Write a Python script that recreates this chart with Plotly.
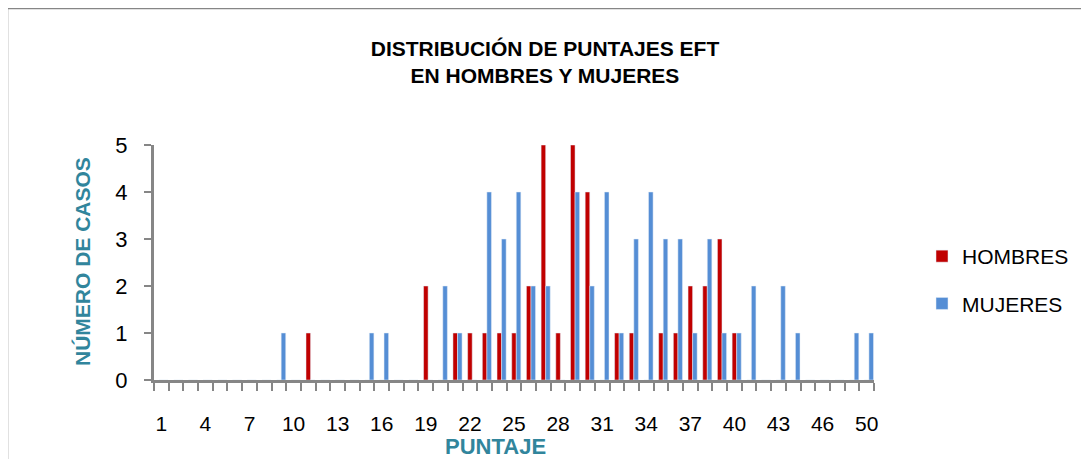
import plotly.graph_objects as go

# Categories (PUNTAJE); the last shown category in the source chart is 50
puntaje = [str(i) for i in range(1, 49)] + ["50"]

hombres = [0, 0, 0, 0, 0, 0, 0, 0, 0, 0,
           1, 0, 0, 0, 0, 0, 0, 0, 2, 0,
           1, 1, 1, 1, 1, 2, 5, 1, 5, 4,
           0, 1, 1, 0, 1, 1, 2, 2, 3, 1,
           0, 0, 0, 0, 0, 0, 0, 0, 0]

mujeres = [0, 0, 0, 0, 0, 0, 0, 0, 1, 0,
           0, 0, 0, 0, 1, 1, 0, 0, 0, 2,
           1, 0, 4, 3, 4, 2, 2, 0, 4, 2,
           4, 1, 3, 4, 3, 3, 1, 3, 1, 1,
           2, 0, 2, 1, 0, 0, 0, 1, 1]

tick_labels = [c if i % 3 == 0 else "" for i, c in enumerate(puntaje)]

RED = "#C00000"
BLUE = "#558ED5"
TEAL = "#31859C"
GRAY = "#868686"
FONT = "Liberation Sans, Arial, sans-serif"

fig = go.Figure()
fig.add_trace(go.Bar(x=puntaje, y=hombres, name="HOMBRES", marker_color=RED,
                     width=0.31, offset=-0.155, legendgroup="h"))
fig.add_trace(go.Bar(x=puntaje, y=mujeres, name="MUJERES", marker_color=BLUE,
                     width=0.31, offset=0.155, legendgroup="m"))

# page body has an 8px margin: work in window coordinates and shift
O = 8
W, H = 1089 - O, 459 - O
L, T = 154 - O, 145 - O
pw, ph = 720, 235
R = W - L - pw
B = H - T - ph

def px_x(x):
    return (x - O - L) / pw

def px_y(y):
    return (H - B - (y - O)) / ph

fig.update_layout(
    width=W, height=H,
    margin=dict(l=L, r=R, t=T, b=B, autoexpand=False),
    paper_bgcolor="white", plot_bgcolor="white",
    barmode="overlay",
    font=dict(family=FONT, color="black"),
    title=dict(text="DISTRIBUCIÓN DE PUNTAJES EFT<br>EN HOMBRES Y MUJERES",
               x=px_x(545), xanchor="center", xref="paper",
               y=1 - (56 - O) / H, yanchor="middle",
               font=dict(size=21, family=FONT, color="black", weight="bold")),
    legend=dict(x=px_x(922), xanchor="left", y=px_y(280), yanchor="middle",
                font=dict(size=21, family=FONT, color="black"),
                traceorder="grouped", tracegroupgap=17,
                bgcolor="rgba(0,0,0,0)"),
    xaxis=dict(type="category", tickmode="array", tickvals=puntaje, ticktext=tick_labels,
               tickson="boundaries", ticks="outside", ticklen=8, tickwidth=2, tickcolor=GRAY,
               showline=True, linecolor=GRAY, linewidth=3, showgrid=False, tickangle=0,
               tickfont=dict(size=21, color="black"), ticklabelstandoff=23,
               range=[-0.5, len(puntaje) - 0.5]),
    yaxis=dict(range=[0, 5], dtick=1, ticks="outside", ticklen=7, tickwidth=2, tickcolor=GRAY,
               showline=True, linecolor=GRAY, linewidth=3, showgrid=False, zeroline=False,
               tickfont=dict(size=22, color="black"), ticklabelstandoff=12),
    showlegend=True,
)

fig.add_annotation(text="<b>PUNTAJE</b>", x=px_x(495), y=px_y(446), xref="paper", yref="paper",
                   xanchor="center", yanchor="middle", showarrow=False,
                   font=dict(size=22, color=TEAL, family=FONT))
fig.add_annotation(text="<b>NÚMERO DE CASOS</b>", x=px_x(82), y=px_y(262), xref="paper", yref="paper",
                   xanchor="center", yanchor="middle", showarrow=False, textangle=-90,
                   font=dict(size=21, color=TEAL, family=FONT))

# chart-area frame (top and left edges visible in the crop)
fig.add_shape(type="line", xref="paper", yref="paper", x0=px_x(7), x1=px_x(1200),
              y0=px_y(8), y1=px_y(8), line=dict(color=GRAY, width=2.5))
fig.add_shape(type="line", xref="paper", yref="paper", x0=px_x(7), x1=px_x(7),
              y0=px_y(8), y1=px_y(600), line=dict(color=GRAY, width=2.5))

fig.write_html("out.html")
